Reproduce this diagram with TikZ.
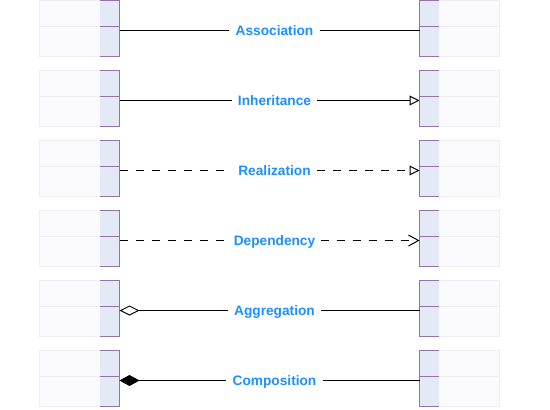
\documentclass[tikz,border=0pt]{standalone}
\usepackage{fontspec}
\setmainfont{Liberation Sans}
\usetikzlibrary{arrows.meta}
\definecolor{purp}{HTML}{9673A6}
\definecolor{colfill}{HTML}{E4EAF5}
\definecolor{cellfill}{HTML}{FBFBFE}
\definecolor{cellline}{HTML}{EEEEEE}
\definecolor{lblblue}{HTML}{1E8FFF}
\begin{document}
\begin{tikzpicture}[x=1pt,y=-1pt,
 cell/.style={draw=cellline, fill=cellfill, line width=0.8pt, minimum width=80pt, minimum height=56pt, inner sep=0pt, outer sep=0pt, anchor=north west},
 colbox/.style={fill=colfill, minimum width=19.5pt, minimum height=56pt, inner sep=0pt, outer sep=0pt, anchor=north west},
 lbl/.style={text=lblblue, font=\fontsize{13.7}{16}\selectfont\bfseries, inner xsep=6pt, inner ysep=0pt, anchor=base},
 rel/.style={line width=1pt, black},
 dashrel/.style={rel, dash pattern=on 8pt off 8pt}
]
\fill[white] (0,0) rectangle (550,410);
\useasboundingbox (0,0) rectangle (550,410);
\foreach \k in {0,...,5}{
  \pgfmathsetmacro\T{70*\k+0.5}
  % left class
  \node[cell] (LC\k) at (39.5,\T) {};
  \draw[cellline, line width=0.8pt] (39.5,\T+26) -- (100,\T+26);
  \node[colbox] (L\k) at (100,\T) {};
  \draw[purp, line width=1pt] (L\k.north west) -- (L\k.north east) -- (L\k.south east) -- (L\k.south west);
  \draw[purp, line width=1pt] (100,\T+26) -- (119.5,\T+26);
  % right class
  \node[cell] (RC\k) at (419.5,\T) {};
  \draw[cellline, line width=0.8pt] (439,\T+26) -- (499.5,\T+26);
  \node[colbox] (R\k) at (419.5,\T) {};
  \draw[purp, line width=1pt] (R\k.north east) -- (R\k.north west) -- (R\k.south west) -- (R\k.south east);
  \draw[purp, line width=1pt] (419.5,\T+26) -- (439,\T+26);
  \coordinate (A\k) at (119.5,\T+30);
  \coordinate (B\k) at (419.5,\T+30);
}
% Association
\node[lbl] (t0) at (274.5,35.5) {Association};
\draw[rel] (A0) -- (t0.west |- A0);
\draw[rel] (t0.east |- A0) -- (B0);
% Inheritance
\node[lbl] (t1) at (274.5,105.5) {Inheritance};
\draw[rel] (A1) -- (t1.west |- A1);
\draw[rel,-{Triangle[open,length=10pt,width=10pt]}] (t1.east |- A1) -- (B1);
% Realization
\node[lbl] (t2) at (274.5,175.5) {Realization};
\draw[dashrel, shorten >=1.5pt] (A2) -- (t2.west |- A2);
\draw[dashrel,-{Triangle[open,length=10pt,width=10pt]}] (t2.east |- A2) -- (B2);
% Dependency
\node[lbl] (t3) at (274.5,245.5) {Dependency};
\draw[dashrel] (A3) -- (t3.west |- A3);
\draw[dashrel,-{Straight Barb[length=10pt,width=11pt]}] (t3.east |- A3) -- (B3);
% Aggregation
\node[lbl] (t4) at (274.5,315.5) {Aggregation};
\draw[rel,{Diamond[open,length=20pt,width=10pt]}-] (A4) -- (t4.west |- A4);
\draw[rel] (t4.east |- A4) -- (B4);
% Composition
\node[lbl] (t5) at (274.5,385.5) {Composition};
\draw[rel,{Diamond[length=20pt,width=11pt]}-] (A5) -- (t5.west |- A5);
\draw[rel] (t5.east |- A5) -- (B5);
\end{tikzpicture}
\end{document}
